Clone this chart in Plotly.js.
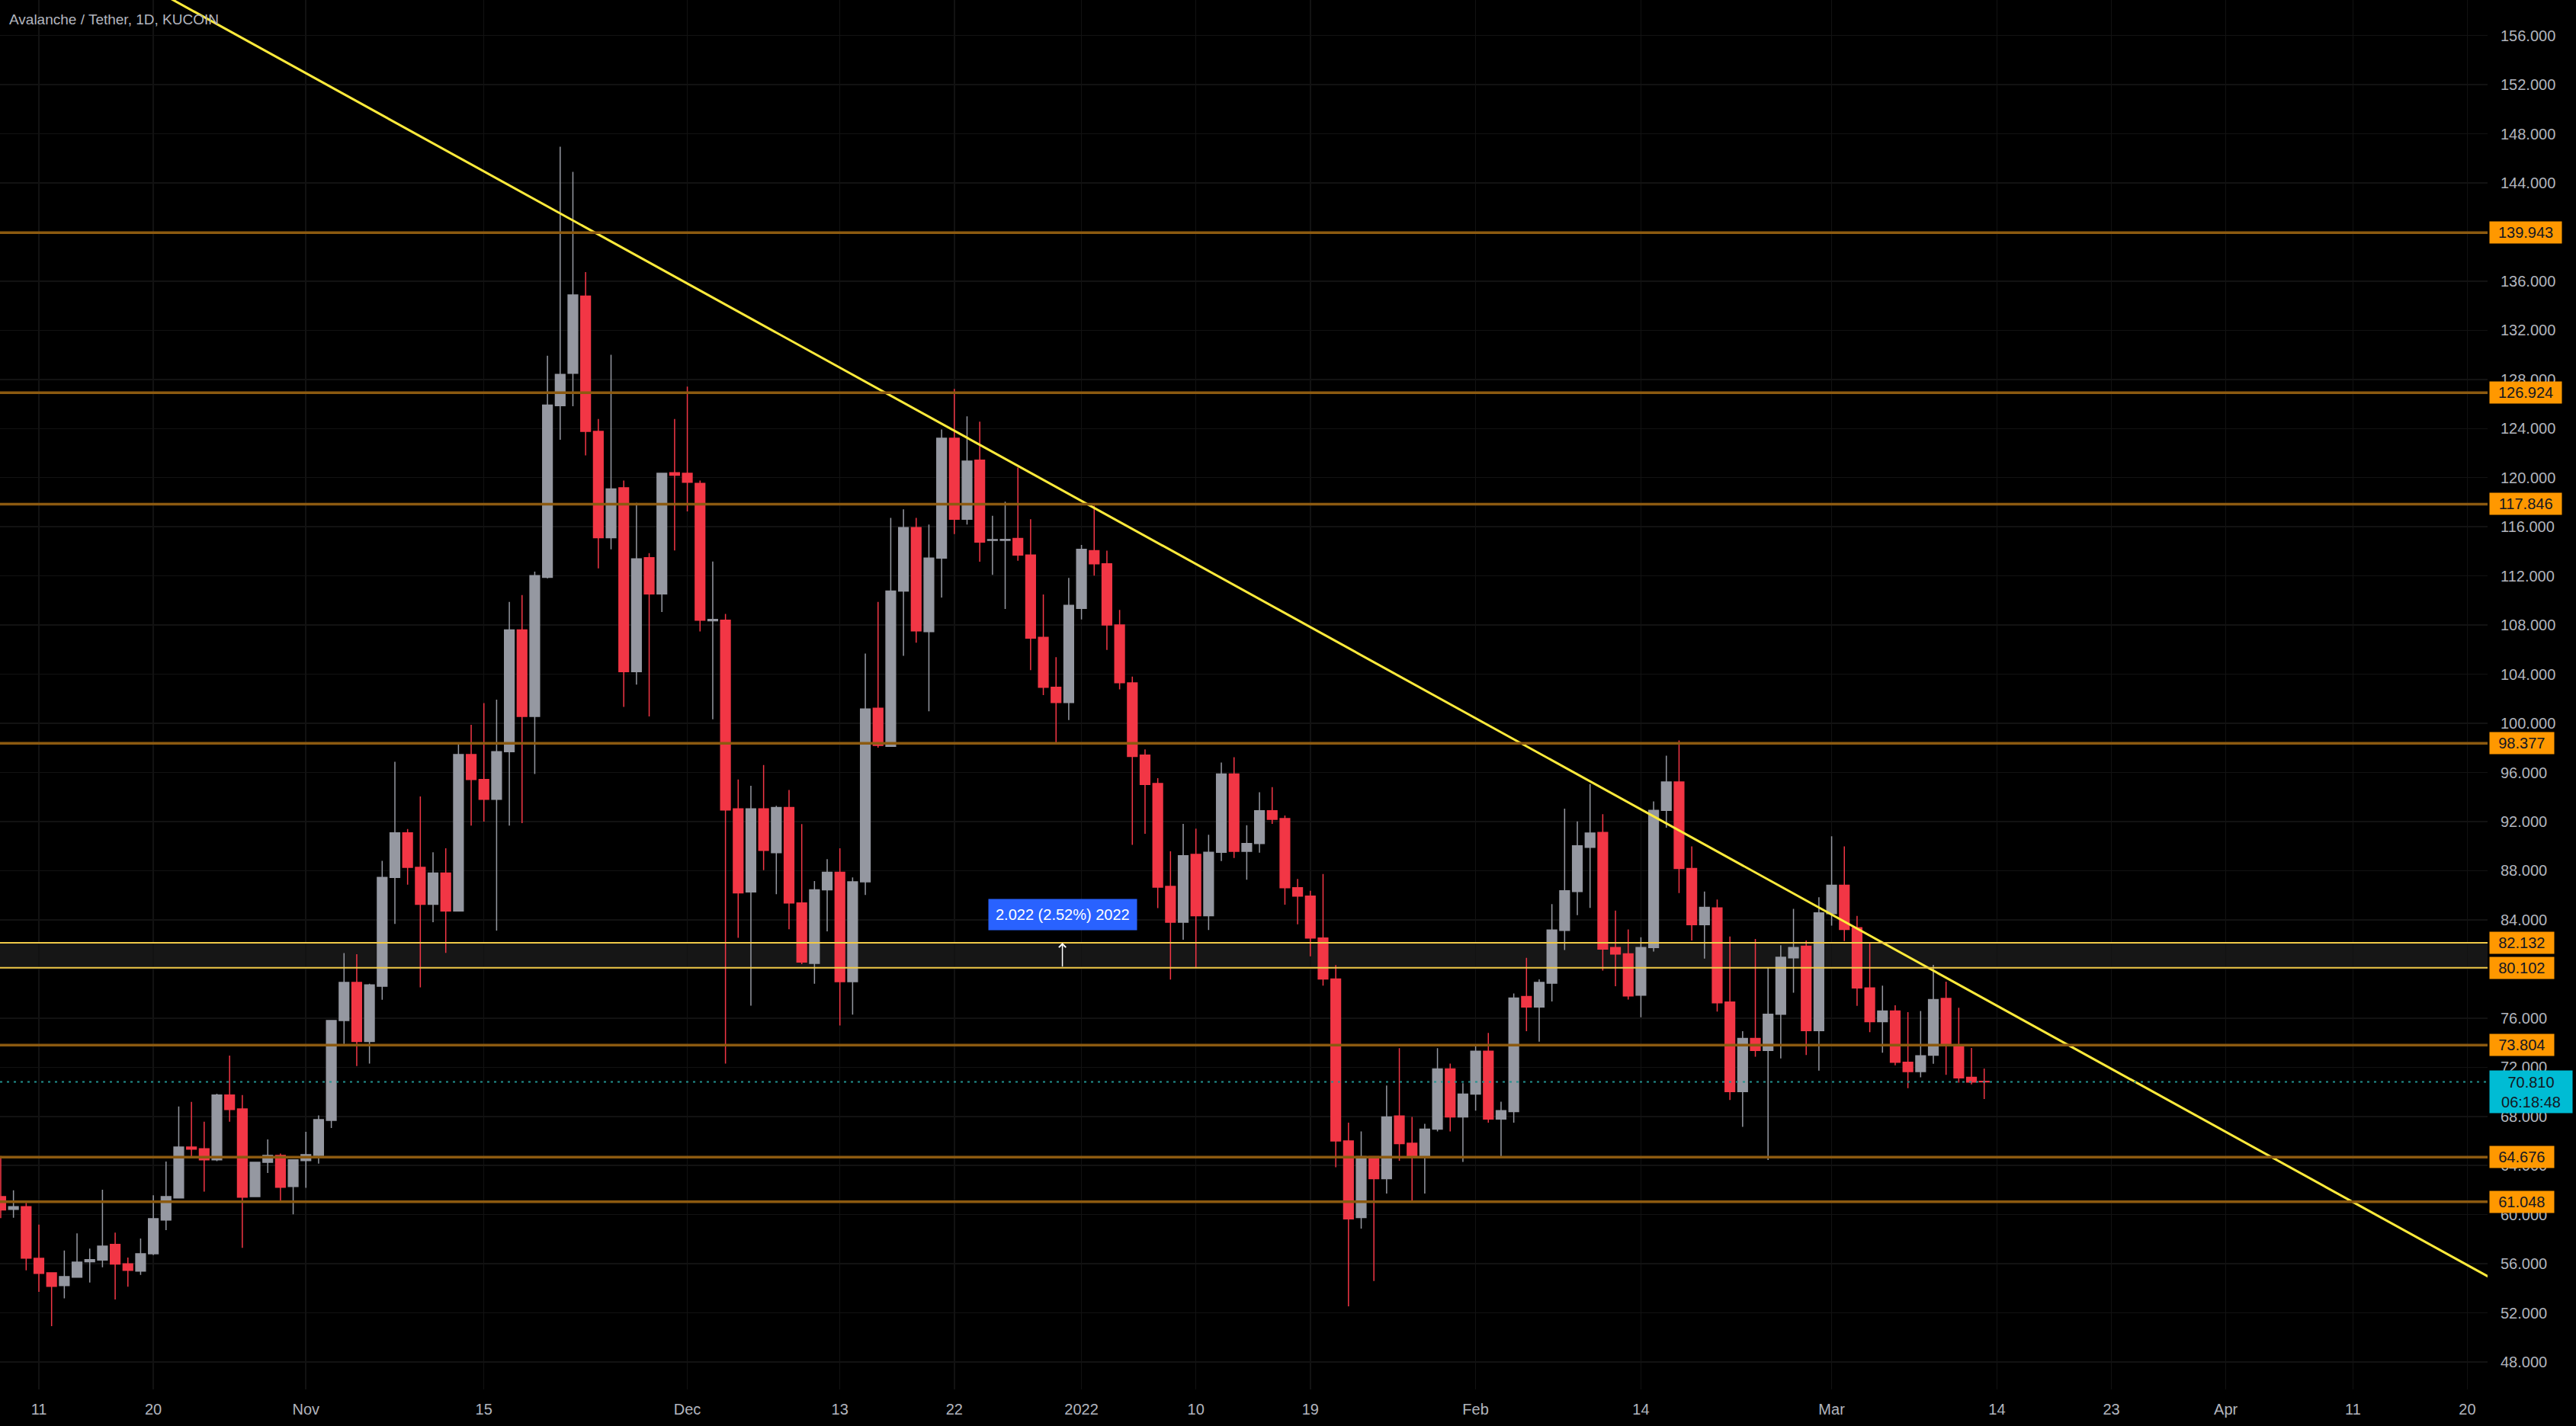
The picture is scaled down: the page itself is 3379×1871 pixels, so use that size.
<!DOCTYPE html>
<html><head><meta charset="utf-8">
<script src="https://cdn.plot.ly/plotly-3.0.1.min.js"></script>
<style>html,body{margin:0;padding:0;background:#000;overflow:hidden}#chart{width:3379px;height:1871px}</style>
</head><body><div id="chart"></div>
<script>
const dates = [
'2021-10-08','2021-10-09','2021-10-10','2021-10-11','2021-10-12','2021-10-13','2021-10-14','2021-10-15','2021-10-16','2021-10-17','2021-10-18','2021-10-19','2021-10-20','2021-10-21','2021-10-22','2021-10-23','2021-10-24','2021-10-25','2021-10-26','2021-10-27','2021-10-28','2021-10-29','2021-10-30','2021-10-31',
'2021-11-01','2021-11-02','2021-11-03','2021-11-04','2021-11-05','2021-11-06','2021-11-07','2021-11-08','2021-11-09','2021-11-10','2021-11-11','2021-11-12','2021-11-13','2021-11-14','2021-11-15','2021-11-16','2021-11-17','2021-11-18','2021-11-19','2021-11-20','2021-11-21','2021-11-22','2021-11-23','2021-11-24','2021-11-25','2021-11-26','2021-11-27','2021-11-28','2021-11-29','2021-11-30',
'2021-12-01','2021-12-02','2021-12-03','2021-12-04','2021-12-05','2021-12-06','2021-12-07','2021-12-08','2021-12-09','2021-12-10','2021-12-11','2021-12-12','2021-12-13','2021-12-14','2021-12-15','2021-12-16','2021-12-17','2021-12-18','2021-12-19','2021-12-20','2021-12-21','2021-12-22','2021-12-23','2021-12-24','2021-12-25','2021-12-26','2021-12-27','2021-12-28','2021-12-29','2021-12-30','2021-12-31',
'2022-01-01','2022-01-02','2022-01-03','2022-01-04','2022-01-05','2022-01-06','2022-01-07','2022-01-08','2022-01-09','2022-01-10','2022-01-11','2022-01-12','2022-01-13','2022-01-14','2022-01-15','2022-01-16','2022-01-17','2022-01-18','2022-01-19','2022-01-20','2022-01-21','2022-01-22','2022-01-23','2022-01-24','2022-01-25','2022-01-26','2022-01-27','2022-01-28','2022-01-29','2022-01-30','2022-01-31',
'2022-02-01','2022-02-02','2022-02-03','2022-02-04','2022-02-05','2022-02-06','2022-02-07','2022-02-08','2022-02-09','2022-02-10','2022-02-11','2022-02-12','2022-02-13','2022-02-14','2022-02-15','2022-02-16','2022-02-17','2022-02-18','2022-02-19','2022-02-20','2022-02-21','2022-02-22','2022-02-23','2022-02-24','2022-02-25','2022-02-26','2022-02-27','2022-02-28',
'2022-03-01','2022-03-02','2022-03-03','2022-03-04','2022-03-05','2022-03-06','2022-03-07','2022-03-08','2022-03-09','2022-03-10','2022-03-11','2022-03-12','2022-03-13'
];
const openP = [
61.47,60.43,60.64,56.44,55.26,54.23,54.91,56.17,56.30,57.58,55.99,55.41,56.81,59.56,61.36,65.50,65.36,64.47,69.74,68.60,61.47,64.26,64.82,62.29,
64.40,64.82,67.67,75.8,78.9,74.1,78.6,87.45,91.09,88.27,85.27,87.81,84.72,97.46,95.42,93.82,97.69,107.61,100.56,111.89,125.87,128.5,134.79,123.77,115.12,119.17,104.2,113.48,110.53,120.4,
120.36,119.54,108.35,108.4,93.04,86.27,93.04,89.47,93.14,85.38,80.46,86.45,87.87,78.97,87.09,101.23,98.13,110.77,115.94,107.46,113.45,123.21,116.62,121.42,114.9,114.9,115.05,113.7,107.0,102.94,101.69,
109.35,114.05,112.98,108.0,103.29,97.41,95.1,86.73,83.81,89.33,84.34,89.5,95.88,89.58,90.22,92.89,92.25,86.62,85.94,82.52,79.18,66.0,59.77,64.72,62.93,68.03,65.82,64.64,66.96,71.87,67.96,
69.81,73.3,67.78,68.39,77.76,76.91,78.85,83.14,86.3,89.91,91.12,81.75,81.24,77.87,81.75,92.92,95.23,88.18,83.6,84.97,77.3,70.02,74.34,73.36,76.32,80.9,81.85,74.98,
84.5,86.82,83.35,78.46,75.71,76.58,72.41,71.64,72.98,77.61,73.83,71.18,70.86
];
const highP = [
64.78,61.98,60.95,59.19,55.30,57.08,58.47,57.23,62.03,58.53,56.50,58.05,61.57,64.32,68.81,69.18,67.57,69.84,72.95,69.74,64.26,66.12,64.98,64.47,
66.74,68.08,75.80,81.3,81.2,78.8,88.8,96.87,91.4,94.05,89.5,89.82,98.37,99.88,101.65,101.92,109.89,110.44,112.35,129.92,146.94,144.89,136.74,124.77,130.01,119.77,117.95,113.85,120.36,124.77,
127.41,119.77,113.17,108.9,95.42,94.92,96.6,93.28,94.57,91.79,87.16,88.94,89.83,87.45,105.68,109.88,116.72,117.43,116.72,116.19,123.92,127.23,124.99,124.56,116.9,118.04,120.82,116.62,110.49,105.39,111.84,
114.52,117.72,114.05,109.24,103.8,97.88,95.53,89.58,91.82,91.43,90.93,96.81,97.24,91.71,94.39,94.81,92.5,87.33,86.37,87.73,80.32,67.49,66.78,64.72,70.52,73.55,67.96,67.39,73.55,72.3,70.7,
73.8,74.79,69.2,78.0,80.9,79.15,85.28,93.05,92.02,95.05,92.61,84.76,83.22,82.58,93.64,97.37,98.6,89.98,86.3,85.66,82.65,74.93,82.45,80.13,81.93,84.89,82.32,85.84,
90.81,89.98,84.32,82.19,78.64,77.04,76.48,76.58,80.34,78.97,76.84,73.57,71.9
];
const lowP = [
59.71,59.75,55.47,53.71,50.92,53.19,54.91,54.48,55.72,53.09,54.13,55.10,56.71,58.74,61.36,64.63,61.88,64.36,67.57,57.29,61.47,63.39,61.05,60.02,
62.19,64.16,67.05,73.9,72.1,72.3,77.5,83.67,86.86,78.5,83.81,81.31,84.72,91.68,92.0,83.13,91.68,91.87,95.87,111.8,123.09,125.82,121.81,112.62,114.17,101.33,103.15,100.56,109.07,114.08,
117.26,107.48,100.33,72.3,82.53,77.01,88.05,86.09,83.24,80.4,78.79,83.06,75.4,76.29,86.02,98.02,98.1,105.5,106.57,100.98,110.24,115.4,116.19,113.16,112.09,109.31,113.23,104.33,102.3,98.38,100.27,
108.46,112.02,105.97,102.76,90.11,91.0,84.95,79.14,82.38,80.07,83.17,88.79,89.04,87.26,89.47,91.82,85.23,83.63,81.03,78.64,63.86,52.53,58.87,54.6,61.72,64.39,61.08,61.72,66.78,66.78,64.29,
68.46,67.49,64.64,67.49,74.93,74.08,77.35,81.54,84.38,84.97,79.87,78.59,77.51,76.07,81.42,91.5,86.18,82.32,80.85,76.53,69.33,67.14,72.85,64.44,72.72,78.07,72.99,71.72,
83.53,82.27,76.99,74.86,73.18,72.16,70.3,71.18,72.28,71.38,70.74,70.61,69.41
];
const closeP = [
60.39,60.64,56.46,55.22,54.17,54.95,56.13,56.34,57.43,55.97,55.47,56.81,59.67,61.47,65.50,65.33,64.47,69.74,68.56,61.43,64.26,64.82,62.23,64.47,
64.88,67.73,75.80,78.9,74.1,78.7,87.45,91.09,88.27,85.27,87.81,84.72,97.46,95.42,93.82,97.69,107.61,100.56,112.03,125.91,128.41,134.88,123.77,115.12,119.08,104.2,113.39,110.53,120.36,120.2,
119.63,108.39,108.45,92.95,86.2,93.04,89.65,93.14,85.38,80.57,86.45,87.87,78.97,87.09,101.16,98.2,110.77,115.94,107.53,113.45,123.21,116.62,121.35,114.76,114.95,114.98,113.7,106.93,102.94,101.69,109.6,
114.16,112.98,108.0,103.3,97.31,95.03,86.66,83.81,89.22,84.34,89.5,95.88,89.58,90.22,92.89,92.18,86.62,85.94,82.52,79.18,66.0,59.66,64.72,62.93,67.96,65.78,64.64,66.96,71.87,67.96,69.81,
73.3,67.78,68.46,77.64,76.91,78.9,83.17,86.36,90.03,91.06,81.62,81.21,77.81,81.75,92.92,95.23,88.18,83.6,85.02,77.25,70.02,74.34,73.36,76.32,80.95,81.75,74.98,84.56,
86.82,83.22,78.46,75.71,76.58,72.41,71.64,72.93,77.51,73.83,71.13,70.79,70.81
];

const levelPrices = [139.943, 126.924, 117.846, 98.377, 73.804, 64.676, 61.048];
const zonePrices = [80.102, 82.132];
const lastPrice = 70.810;
const countdownText = '06:18:48';
const trendDates = ['2021-10-08', '2022-04-22'];
const trendPrices = [166.63, 54.75];
const measureText = '2.022 (2.52%) 2022';
const measureDate = '2021-12-30 12:00';
const measureLabelPrice = 84.4;
const titleText = 'Avalanche / Tether, 1D, KUCOIN';
const xTickVals = ['2021-10-11','2021-10-20','2021-11-01','2021-11-15','2021-12-01','2021-12-13','2021-12-22','2022-01-01','2022-01-10','2022-01-19','2022-02-01','2022-02-14','2022-03-01','2022-03-14','2022-03-23','2022-04-01','2022-04-11','2022-04-20'];
const xTickText = ['11','20','Nov','15','Dec','13','22','2022','10','19','Feb','14','Mar','14','23','Apr','11','20'];
const yTickVals = [48,52,56,60,64,68,72,76,80,84,88,92,96,100,104,108,112,116,120,124,128,132,136,140,144,148,152,156];

const FONT = 'Liberation Sans, Arial, sans-serif';
const AXC = '#b2b5be';
const ORANGE_LINE = '#8c5a10';
const ZONE_LINE = '#f0c948';
const GRID = '#121212';

const traces = [
  {
    type: 'candlestick', x: dates, open: openP, high: highP, low: lowP, close: closeP,
    increasing: {line: {color: '#9598a1', width: 1.5}, fillcolor: '#9598a1'},
    decreasing: {line: {color: '#f23645', width: 1.5}, fillcolor: '#f23645'},
    whiskerwidth: 0, hoverinfo: 'skip', showlegend: false
  },
  {
    type: 'scatter', mode: 'lines', x: trendDates, y: trendPrices,
    line: {color: '#ffeb3b', width: 3}, hoverinfo: 'skip', showlegend: false
  }
];

const shapes = [];
shapes.push({type: 'rect', xref: 'paper', x0: 0, x1: 1, yref: 'y', y0: zonePrices[0], y1: zonePrices[1],
  fillcolor: 'rgba(255,255,255,0.085)', line: {width: 0}, layer: 'below'});
levelPrices.forEach(p => shapes.push({type: 'line', xref: 'paper', x0: 0, x1: 1, yref: 'y', y0: p, y1: p,
  line: {color: ORANGE_LINE, width: 3.5}, layer: 'above'}));
zonePrices.forEach(p => shapes.push({type: 'line', xref: 'paper', x0: 0, x1: 1, yref: 'y', y0: p, y1: p,
  line: {color: ZONE_LINE, width: 2}, layer: 'above'}));
shapes.push({type: 'line', xref: 'paper', x0: 0, x1: 1, yref: 'y', y0: lastPrice, y1: lastPrice,
  line: {color: '#23918f', width: 2, dash: '3px,6px'}, layer: 'above'});

const annotations = [];
levelPrices.concat(zonePrices).forEach(p => {
  const t = p.toFixed(3);
  annotations.push({xref: 'paper', x: 1, xanchor: 'left', xshift: 2, yref: 'y', y: p, yanchor: 'middle',
    text: t, showarrow: false, bgcolor: '#ff9800', borderpad: 2, width: t.length * 10.6 + 16, height: 24, align: 'center',
    font: {family: FONT, size: 20, color: '#131722'}});
});
annotations.push({xref: 'paper', x: 1, xanchor: 'left', xshift: 2, yref: 'y', y: lastPrice, yanchor: 'middle', yshift: -13,
  text: lastPrice.toFixed(3) + '<br>' + countdownText, showarrow: false, bgcolor: '#00bcd4', borderpad: 3,
  width: 102, height: 49, align: 'center', font: {family: FONT, size: 20, color: '#131722'}});
annotations.push({xref: 'x', x: measureDate, yref: 'y', y: measureLabelPrice, text: measureText, showarrow: false,
  bgcolor: '#2962ff', borderpad: 9, font: {family: FONT, size: 20, color: '#ffffff'}});
annotations.push({xref: 'x', x: measureDate, yref: 'y', y: zonePrices[1], axref: 'x', ax: measureDate, ayref: 'y', ay: zonePrices[0],
  text: '', showarrow: true, arrowhead: 4, arrowsize: 1.2, arrowwidth: 1.5, arrowcolor: '#ffffff'});

const layout = {
  width: 3379, height: 1871,
  paper_bgcolor: '#000000', plot_bgcolor: '#000000',
  margin: {l: 0, r: 116, t: 0, b: 48, pad: 0},
  showlegend: false, hovermode: false,
  title: {text: titleText, xref: 'container', x: 12 / 3379, xanchor: 'left', yref: 'container', y: 1 - 25 / 1871, yanchor: 'middle',
    font: {family: FONT, size: 19, color: AXC}},
  xaxis: {
    type: 'date', range: ['2021-10-07 22:36', '2022-04-21 14:10'],
    tickmode: 'array', tickvals: xTickVals, ticktext: xTickText,
    showgrid: true, gridcolor: GRID, gridwidth: 1.5, zeroline: false, showline: false, ticks: '',
    ticklabelstandoff: 12,
    tickfont: {family: FONT, size: 20, color: AXC}, rangeslider: {visible: false}, fixedrange: true
  },
  yaxis: {
    side: 'right', range: [45.77, 158.89], tickmode: 'array', tickvals: yTickVals, tickformat: '.3f',
    showgrid: true, gridcolor: GRID, gridwidth: 1.5, zeroline: false, showline: false, ticks: '',
    ticklabelstandoff: 16,
    tickfont: {family: FONT, size: 20, color: AXC}, fixedrange: true
  },
  boxgap: 0.24, boxgroupgap: 0,
  shapes: shapes, annotations: annotations
};

Plotly.newPlot('chart', traces, layout, {staticPlot: true, displayModeBar: false});
</script></body></html>
